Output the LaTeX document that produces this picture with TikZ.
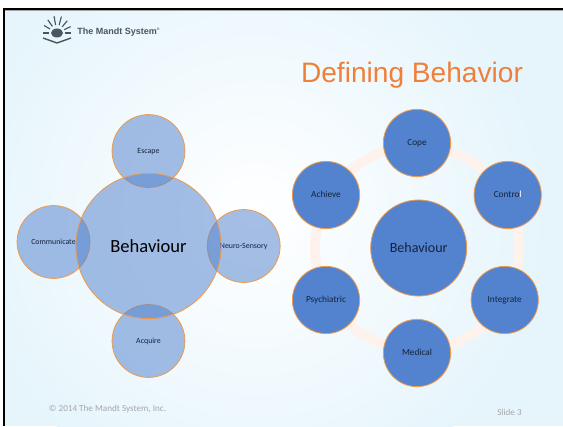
\documentclass[tikz,border=0pt]{standalone}
\usepackage{fontspec}
\setmainfont{Carlito}
\newfontfamily\arialfont{Liberation Sans}
\definecolor{slidebg}{HTML}{E6F5FC}
\definecolor{ringcol}{HTML}{FDF3EC}
\definecolor{discblue}{HTML}{5383CE}
\definecolor{discline}{HTML}{EC9A50}
\definecolor{titlecol}{HTML}{F07F3A}
\definecolor{labelcol}{HTML}{14233C}
\definecolor{footcol}{HTML}{A6A6A6}
\definecolor{logocol}{HTML}{4A5560}
\tikzset{
  softdisc/.style={circle, draw=discline, line width=0.6pt, fill=discblue, fill opacity=0.52, text opacity=1, text=labelcol, inner sep=0pt, minimum size=#1},
  soliddisc/.style={circle, draw=discline, line width=0.6pt, fill=discblue, text=labelcol, inner sep=0pt, minimum size=#1},
  smalltext/.style={font=\fontsize{5.6}{7}\selectfont, text height=3pt, text depth=0pt},
  ringtext/.style={font=\fontsize{6.6}{8}\selectfont, text height=3.4pt, text depth=0pt},
  foottext/.style={text=footcol, inner sep=0pt, font=\fontsize{6.5}{8}\selectfont},
}
\begin{document}
\begin{tikzpicture}[x=0.025cm, y=-0.025cm]
\useasboundingbox (0,0) rectangle (563,426);
\fill[white] (0,0) rectangle (563,426);
\begin{scope}
\clip (5,10) rectangle (563,426);
\fill[slidebg] (5,10) rectangle (563,426);
\shade[inner color=white, outer color=slidebg] (255,215) circle (290);
\end{scope}
\fill[black] (3,8) rectangle (563,10);
\fill[black] (3,8) rectangle (5,426);
\fill[gray!70] (5,10) rectangle (563,10.8);
% logo
\foreach \ang/\rad in {0/12,-25/13,-50/14,-75/15,-100/15,-125/14,-150/13,-180/12} {
  \draw[logocol, line width=0.8pt] (57,33) ++(\ang:8) -- ++(\ang:\rad-6);
}
\fill[logocol] (57,33) ellipse (6 and 4.5);
\draw[logocol, line width=1pt] (43,38) -- (57,43) -- (71,38);
\node[anchor=west, inner sep=0pt, text=logocol] (logotext) at (77,32) {\arialfont\bfseries\fontsize{6.4}{7}\selectfont The Mandt System\textsuperscript{\fontsize{2.5}{3}\selectfont\textregistered}};
\node[text=titlecol, inner sep=0pt] (title) at (412,75) {\arialfont\fontsize{20}{24}\selectfont Defining Behavior};
% left group
\node[softdisc=1.82cm, smalltext] (escape) at (148.5,151) {Escape};
\node[softdisc=1.82cm, smalltext] (communicate) at (53.5,242) {Communicate};
\node[softdisc=1.82cm, smalltext] (neuro) at (243.7,246) {Neuro-Sensory};
\node[softdisc=1.82cm, smalltext] (acquire) at (148.5,341) {Acquire};
\node[softdisc=3.63cm, font=\fontsize{13.2}{16}\selectfont, text=black] (behaviourl) at (148.5,246) {Behaviour};
% right group
\draw[ringcol, line width=0.25cm] (417,248) circle (102);
\node[soliddisc=2.4cm, font=\fontsize{10}{12}\selectfont] (behaviourr) at (418.7,248) {Behaviour};
\node[soliddisc=1.68cm, ringtext] (cope) at (417,143) {Cope};
\node[soliddisc=1.68cm, ringtext] (control) at (507.7,195) {Contro\textcolor{white}{l}};
\node[soliddisc=1.68cm, ringtext] (integrate) at (504.7,300) {Integrate};
\node[soliddisc=1.68cm, ringtext] (medical) at (417,353) {Medical};
\node[soliddisc=1.68cm, ringtext] (psychiatric) at (326,300) {Psychiatric};
\node[soliddisc=1.68cm, ringtext] (achieve) at (326,195) {Achieve};
% footer
\node[foottext] (copyright) at (107.5,409) {\textcopyright{} 2014 The Mandt System, Inc.};
\node[foottext] (slideno) at (509.5,412) {Slide 3};
\end{tikzpicture}
\end{document}
